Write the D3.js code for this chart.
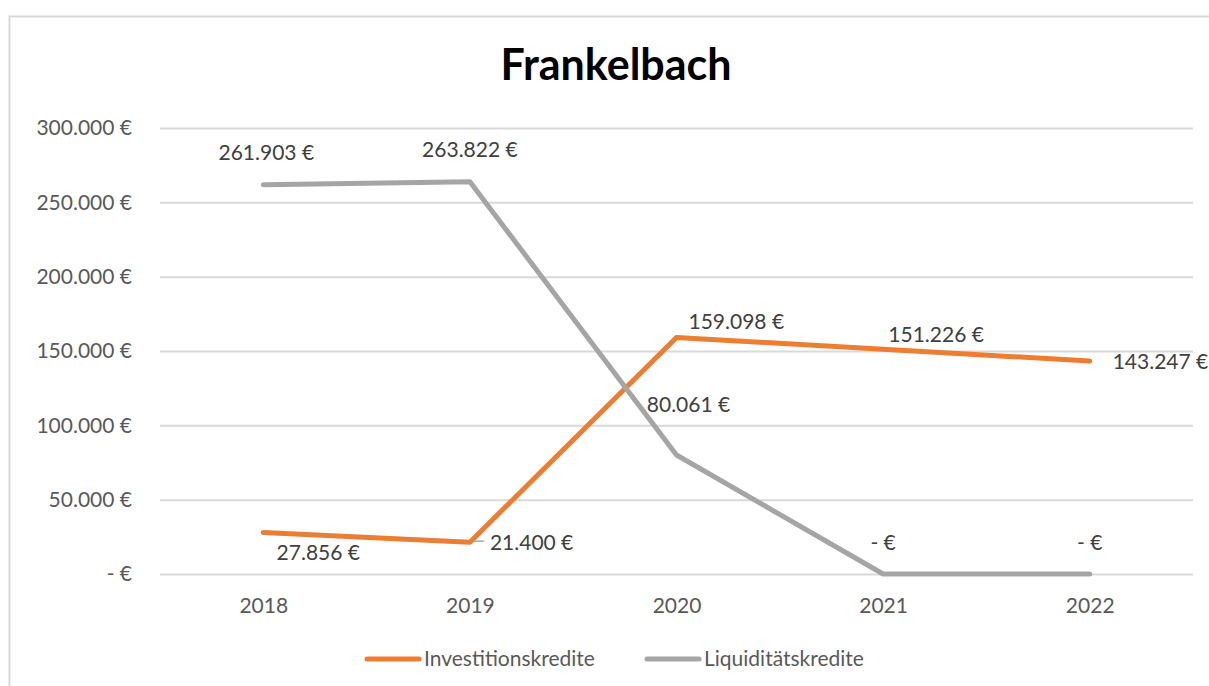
<!DOCTYPE html>
<html>
<head>
<meta charset="utf-8">
<script src="https://cdn.jsdelivr.net/npm/d3@7"></script>
<style>
  body { margin: 0; background: #fff; }
  text { font-family: Lato, "Open Sans", sans-serif; }
</style>
</head>
<body>
<script>
// data
var years = ["2018", "2019", "2020", "2021", "2022"];
var investitionskredite = [27856, 21400, 159098, 151226, 143247];
var liquiditaetskredite = [261903, 263822, 80061, 0, 0];
var yTicks = [0, 50000, 100000, 150000, 200000, 250000, 300000];
var seriesNames = ["Investitionskredite", "Liquiditätskredite"];

var width = 1209, height = 686;
var margins = { top: 128, bottom: 112, left: 160, right: 16 };
var fontSize = 21;

var svg = d3.select("body").append("svg")
  .attr("width", width)
  .attr("height", height);

// chart frame
svg.append("rect")
  .attr("x", 9.5).attr("y", 16.5)
  .attr("width", 1220).attr("height", 700)
  .attr("fill", "none")
  .attr("stroke", "#d9d9d9")
  .attr("stroke-width", 2);

svg.append("text")
  .attr("x", 616).attr("y", 80)
  .attr("text-anchor", "middle")
  .attr("font-size", 43)
  .attr("font-weight", "bold")
  .attr("fill", "#000")
  .text("Frankelbach");

var x = d3.scalePoint()
  .domain(years)
  .range([margins.left, width - margins.right])
  .padding(0.5);

var y = d3.scaleLinear()
  .domain([0, 300000])
  .range([574, 128]);

function euro(v) {
  if (v === 0) return "- €";
  return d3.format(",")(v).replace(/,/g, ".") + " €";
}

// grid + y labels
svg.append("g")
  .attr("transform", "translate(" + margins.left + ",0)")
  .call(d3.axisLeft(y).tickValues(yTicks).tickSize(-(1193 - margins.left)).tickFormat(euro))
  .call(g => g.select(".domain").remove())
  .call(g => g.selectAll(".tick line").attr("stroke", "#d9d9d9").attr("stroke-width", 2))
  .call(g => g.selectAll(".tick text")
    .attr("x", -28)
    .attr("font-size", fontSize)
    .attr("fill", "#595959")
    .style("font-family", "Lato, sans-serif"));

svg.append("g")
  .attr("transform", "translate(0,574)")
  .call(d3.axisBottom(x).tickSize(0))
  .call(g => g.select(".domain").remove())
  .call(g => g.selectAll(".tick text")
    .attr("dy", 0)
    .attr("y", 39)
    .attr("font-size", fontSize)
    .attr("fill", "#595959")
    .style("font-family", "Lato, sans-serif"));

var line = d3.line()
  .x((d, i) => x(years[i]))
  .y(d => y(d));

var colors = ["#ed7d31", "#a5a5a5"];
var allSeries = [investitionskredite, liquiditaetskredite];

allSeries.forEach(function (s, k) {
  svg.append("path")
    .datum(s)
    .attr("d", line)
    .attr("fill", "none")
    .attr("stroke", colors[k])
    .attr("stroke-width", 5)
    .attr("stroke-linecap", "round")
    .attr("stroke-linejoin", "round");
});

// label placement, per point: [dx, dy, anchor]
var invOffsets = [[55, 20, "middle"], [20, 0, "start"], [12, -16, "start"], [53, -15, "middle"], [23, 1, "start"]];
var liqOffsets = [[3, -32, "middle"], [0, -32, "middle"], [12, -50, "middle"], [0, -31, "middle"], [0, -31, "middle"]];

function drawLabels(s, offs) {
  svg.append("g").selectAll("text")
    .data(s)
    .join("text")
    .attr("x", (d, i) => x(years[i]) + offs[i][0])
    .attr("y", (d, i) => y(d) + offs[i][1])
    .attr("dy", "0.35em")
    .attr("text-anchor", (d, i) => offs[i][2])
    .attr("font-size", fontSize)
    .attr("fill", "#404040")
    .text(d => euro(d));
}
drawLabels(investitionskredite, invOffsets);
drawLabels(liquiditaetskredite, liqOffsets);

// leader line at 2019 orange label
svg.append("line")
  .attr("x1", x("2019") + 3).attr("x2", x("2019") + 14)
  .attr("y1", y(investitionskredite[1]) - 1).attr("y2", y(investitionskredite[1]) - 1)
  .attr("stroke", "#a5a5a5").attr("stroke-width", 1.5);

// legend
var legendX = [365, 645];
var legend = svg.append("g").selectAll("g")
  .data(seriesNames)
  .join("g")
  .attr("transform", (d, i) => "translate(" + legendX[i] + ",659)");
legend.append("line")
  .attr("x1", 2).attr("x2", 54)
  .attr("stroke", (d, i) => colors[i])
  .attr("stroke-width", 5)
  .attr("stroke-linecap", "round");
legend.append("text")
  .attr("x", 59)
  .attr("dy", "0.35em")
  .attr("font-size", fontSize)
  .attr("fill", "#595959")
  .text(d => d);
</script>
</body>
</html>
